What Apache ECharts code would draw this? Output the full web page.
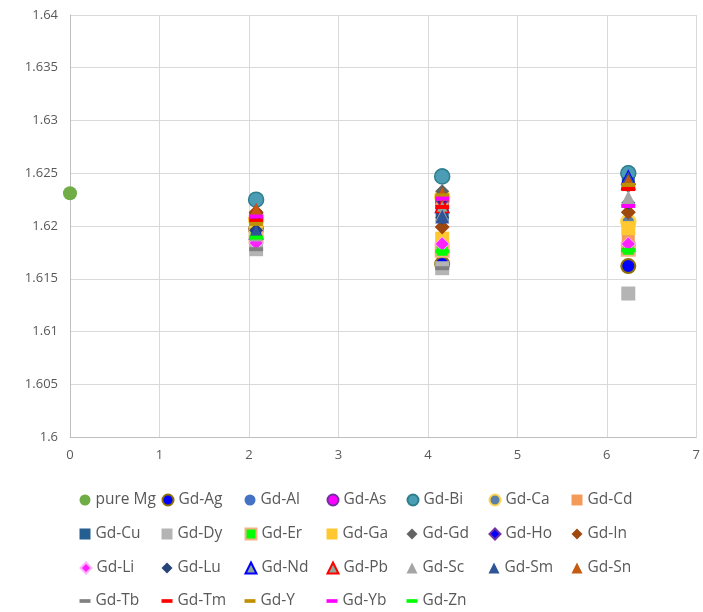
<!DOCTYPE html>
<html>
<head>
<meta charset="utf-8">
<script src="https://cdn.jsdelivr.net/npm/echarts@6/dist/echarts.min.js"></script>
<style>html,body{margin:0;padding:0;background:#fff}#c{width:703px;height:612px}</style>
</head>
<body>
<div id="c"></div>
<script>
// ---- data ----
const xPositions = [2.08, 4.16, 6.24];
const pureMgPoint = [0, 1.6231];
const seriesNames = ['Gd-Ag','Gd-Al','Gd-As','Gd-Bi','Gd-Ca','Gd-Cd','Gd-Cu','Gd-Dy','Gd-Er','Gd-Ga','Gd-Gd','Gd-Ho','Gd-In','Gd-Li','Gd-Lu','Gd-Nd','Gd-Pb','Gd-Sc','Gd-Sm','Gd-Sn','Gd-Tb','Gd-Tm','Gd-Y','Gd-Yb','Gd-Zn'];
const valuesAtX1 = [1.6197,1.6225,1.6210,1.6225,1.6206,1.6206,1.6197,1.6178,1.6190,1.6204,1.6212,1.6208,1.6213,1.6184,1.6196,1.6194,1.6214,1.6192,1.6195,1.6215,1.6178,1.6205,1.6202,1.6209,1.6189];
const valuesAtX2 = [1.6164,1.6248,1.6223,1.6247,1.6228,1.6222,1.6210,1.6160,1.6177,1.6188,1.6233,1.6224,1.6199,1.6183,1.6208,1.6219,1.6219,1.6211,1.6209,1.6230,1.6160,1.6218,1.6229,1.6226,1.6176];
const valuesAtX3 = [1.6162,1.6251,1.6182,1.6250,1.6204,1.6187,1.6240,1.6136,1.6178,1.6198,1.6238,1.6220,1.6213,1.6183,1.6222,1.6246,1.6241,1.6227,1.6245,1.6242,1.6177,1.6235,1.6239,1.6219,1.6177];

// ---- styles ----
const DASH = 'path://M0,0 H14 V4 H0 Z';
const styles = {
  'pure Mg': {symbol:'circle', size:14, color:'#70AD47'},
  'Gd-Ag': {symbol:'circle', size:14, color:'#0000FF', border:'#8C7000', bw:2},
  'Gd-Al': {symbol:'circle', size:14, color:'#4472C4'},
  'Gd-As': {symbol:'circle', size:13, color:'#FF00FF', border:'#7030A0', bw:1.5},
  'Gd-Bi': {symbol:'circle', size:15, color:'#4A9DB5', border:'#2F7E8C', bw:1.5},
  'Gd-Ca': {symbol:'circle', size:14, color:'#5A7FA8', border:'#FFD54F', bw:2.5},
  'Gd-Cd': {symbol:'rect', size:13, color:'#F49B5A'},
  'Gd-Cu': {symbol:'rect', size:13, color:'#255E91'},
  'Gd-Dy': {symbol:'rect', size:14, color:'#B4B4B4'},
  'Gd-Er': {symbol:'rect', size:13, color:'#00FF00', border:'#F4B183', bw:2},
  'Gd-Ga': {symbol:'rect', size:14, color:'#FFC830'},
  'Gd-Gd': {symbol:'diamond', size:14, color:'#636363'},
  'Gd-Ho': {symbol:'diamond', size:12, color:'#0000FF', border:'#7030A0', bw:1.5},
  'Gd-In': {symbol:'diamond', size:15, color:'#9E480E'},
  'Gd-Li': {symbol:'diamond', size:14, color:'#FF22FF', border:'#FFB3FF', bw:1},
  'Gd-Lu': {symbol:'diamond', size:14, color:'#264478'},
  'Gd-Nd': {symbol:'triangle', size:13, color:'#8FA89A', border:'#0000FF', bw:1.5},
  'Gd-Pb': {symbol:'triangle', size:13, color:'#8FA89A', border:'#FF0000', bw:1.5},
  'Gd-Sc': {symbol:'triangle', size:14, color:'#A5A5A5'},
  'Gd-Sm': {symbol:'triangle', size:14, color:'#2F5597'},
  'Gd-Sn': {symbol:'triangle', size:14, color:'#C55A11'},
  'Gd-Tb': {symbol:DASH, size:[14,4], color:'#808080'},
  'Gd-Tm': {symbol:DASH, size:[14,4], color:'#FF0000'},
  'Gd-Y':  {symbol:DASH, size:[14,4], color:'#BF9000'},
  'Gd-Yb': {symbol:DASH, size:[14,4], color:'#FF00FF'},
  'Gd-Zn': {symbol:DASH, size:[14,4], color:'#00FF00'}
};

function mkSeries(name, data) {
  const s = styles[name];
  return {
    name: name, type: 'scatter', data: data,
    symbol: s.symbol, symbolSize: s.size, symbolKeepAspect: false,
    itemStyle: {color: s.color, borderColor: s.border || s.color, borderWidth: s.bw || 0, opacity: 1},
    emphasis: {disabled: true}, animation: false
  };
}

const series = [mkSeries('pure Mg', [pureMgPoint])];
seriesNames.forEach((n, i) => {
  series.push(mkSeries(n, [[xPositions[0], valuesAtX1[i]], [xPositions[1], valuesAtX2[i]], [xPositions[2], valuesAtX3[i]]]));
});

const allNames = ['pure Mg'].concat(seriesNames);
const rowCenters = [500, 534, 568, 601];
const colCenters = [85, 167, 250, 332, 412, 494, 577];
const ICON = 11;
const legends = allNames.map((n, k) => {
  const r = Math.floor(k / 7), c = k % 7;
  const s = styles[n];
  const isDash = typeof s.symbol === 'string' && s.symbol.indexOf('path://') === 0;
  return {
    left: colCenters[c] - ICON / 2, top: rowCenters[r] - 10, orient: 'horizontal',
    itemWidth: ICON, itemHeight: ICON, itemGap: 0, padding: 0,
    selectedMode: false,
    textStyle: {color: '#595959', fontSize: 15.5, fontFamily: 'Open Sans', lineHeight: 20, padding: [0,0,0,0]},
    data: [isDash ? {name: n, icon: 'path://M0,0 H12 V4 H0 Z'} : {name: n}]
  };
});

const chart = echarts.init(document.getElementById('c'));
chart.setOption({
  animation: false,
  backgroundColor: '#fff',
  grid: {left: 70, right: 6, top: 15, bottom: 175, containLabel: false},
  xAxis: {
    type: 'value', min: 0, max: 7, interval: 1,
    axisLine: {show: true, onZero: false, lineStyle: {color: '#BFBFBF', width: 1}},
    axisTick: {show: false},
    splitLine: {show: true, lineStyle: {color: '#D9D9D9', width: 1}},
    axisLabel: {color: '#595959', fontSize: 13, fontFamily: 'Open Sans', margin: 12}
  },
  yAxis: {
    type: 'value', min: 1.6, max: 1.64, interval: 0.005,
    axisLine: {show: true, onZero: false, lineStyle: {color: '#BFBFBF', width: 1}},
    axisTick: {show: false},
    splitLine: {show: true, lineStyle: {color: '#D9D9D9', width: 1}},
    axisLabel: {color: '#595959', fontSize: 13, fontFamily: 'Open Sans', margin: 12,
      formatter: v => String(+v.toFixed(3))}
  },
  legend: legends,
  series: series
});
</script>
</body>
</html>
